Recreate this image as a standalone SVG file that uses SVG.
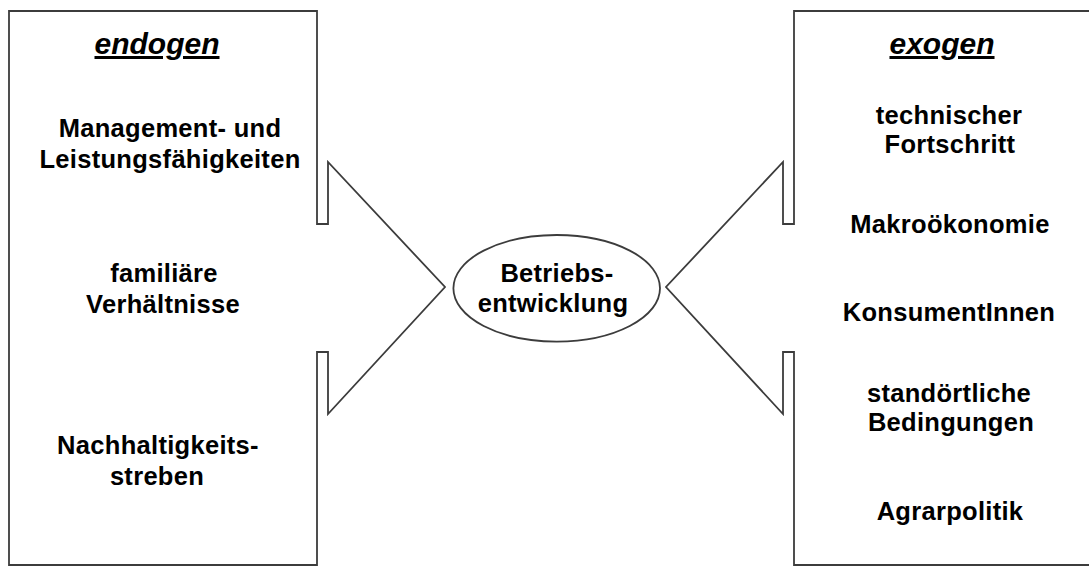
<svg xmlns="http://www.w3.org/2000/svg" width="1089" height="567" viewBox="0 0 1089 567">
<style>
.shape{fill:#fff;stroke:#3c3c3c;stroke-width:1.8;stroke-linejoin:miter}
.t{font-family:"Liberation Sans",Arial,sans-serif;font-weight:bold;font-size:25.5px;fill:#000;text-anchor:middle;letter-spacing:0.3px}
.h{font-family:"Liberation Sans",Arial,sans-serif;font-weight:bold;font-style:italic;font-size:30px;fill:#000;text-anchor:middle;text-decoration:underline}
</style>
<rect width="1089" height="567" fill="#fff"/>
<g id="endogen">
<path class="shape" d="M9,11 H317 V224 H328 V162 L445,287 L328,414 V352 H317 V565 H9 Z"/>
<text class="h" x="157" y="54">endogen</text>
<text class="t" x="170" y="137">Management- und</text>
<text class="t" x="170" y="168">Leistungsfähigkeiten</text>
<text class="t" x="164" y="282">familiäre</text>
<text class="t" x="163" y="313">Verhältnisse</text>
<text class="t" x="158" y="454">Nachhaltigkeits-</text>
<text class="t" x="157" y="485">streben</text>
</g>
<g id="exogen">
<path class="shape" d="M794,11 H1100 V565 H794 V352 H783 V414 L666,287 L783,162 V224 H794 Z"/>
<text class="h" x="942" y="54">exogen</text>
<text class="t" x="949" y="124">technischer</text>
<text class="t" x="950" y="153">Fortschritt</text>
<text class="t" x="950" y="233">Makroökonomie</text>
<text class="t" x="949" y="321">KonsumentInnen</text>
<text class="t" x="949" y="402">standörtliche</text>
<text class="t" x="951" y="431">Bedingungen</text>
<text class="t" x="950" y="520">Agrarpolitik</text>
</g>
<g id="betriebsentwicklung">
<ellipse class="shape" cx="556.7" cy="288.3" rx="103.3" ry="53.3"/>
<text class="t" x="557" y="282">Betriebs-</text>
<text class="t" x="553" y="312">entwicklung</text>
</g>
<g id="connectors"></g>
</svg>
